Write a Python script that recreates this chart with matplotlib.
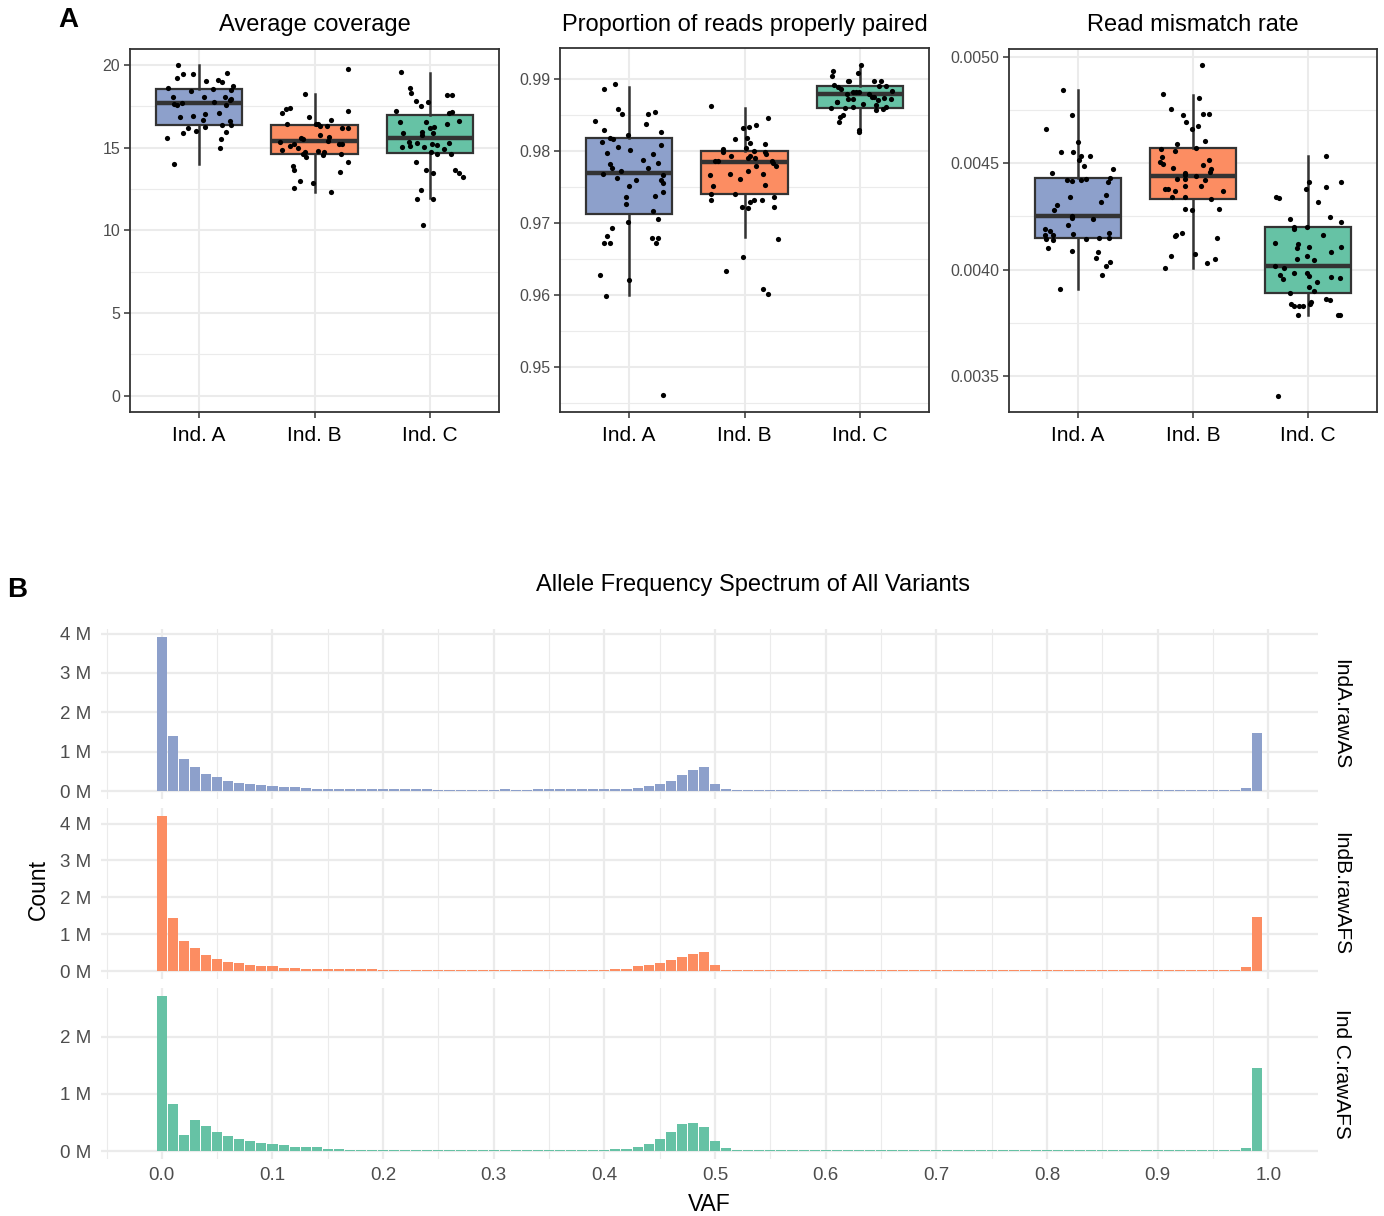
import numpy as np
import matplotlib
matplotlib.use("Agg")
import matplotlib.pyplot as plt
from matplotlib.ticker import FixedLocator

plt.rcParams['font.family'] = ['Liberation Sans', 'DejaVu Sans']

W, H = 1384, 1216

groups = ["Ind. A", "Ind. B", "Ind. C"]
fills = ["#8DA0CB", "#FC8D62", "#66C2A5"]

# ---- panel A data: box summaries (lower whisker, q1, median, q3, upper whisker)
cov_box = [[14.03, 16.39, 17.72, 18.55, 19.98],
           [12.34, 14.62, 15.38, 16.35, 18.23],
           [11.94, 14.66, 15.56, 17.00, 19.52]]
pp_box = [[0.96006, 0.97127, 0.97702, 0.98184, 0.98893],
          [0.96803, 0.97401, 0.97851, 0.98003, 0.98597],
          [0.98295, 0.98597, 0.98796, 0.98903, 0.99153]]
mm_box = [[0.003910, 0.004149, 0.004251, 0.004431, 0.004846],
          [0.004009, 0.004331, 0.004442, 0.004573, 0.004823],
          [0.003787, 0.003888, 0.004018, 0.004202, 0.004537]]

# jittered samples: (horizontal jitter, value)
cov_A = [(-0.18, 20.0), (-0.19, 19.2), (-0.14, 19.46), (-0.05, 19.44), (0.24, 19.54), (0.06, 19.05),
         (0.16, 19.07), (0.20, 18.97), (0.29, 18.75), (-0.27, 18.63), (0.12, 18.53), (0.28, 18.49),
         (-0.07, 18.41), (-0.23, 18.04), (0.04, 18.04), (0.22, 18.04), (0.28, 17.96), (0.27, 17.88),
         (-0.22, 17.66), (-0.19, 17.56), (-0.15, 17.68), (0.13, 17.74), (0.23, 17.56), (0.05, 17.06),
         (0.17, 17.10), (-0.05, 16.94), (-0.17, 16.88), (0.03, 16.65), (0.27, 16.59), (0.20, 16.37),
         (0.28, 16.39), (-0.10, 16.19), (0.05, 16.23), (-0.14, 15.91), (-0.03, 15.99), (0.23, 15.93),
         (-0.28, 15.58), (0.19, 15.50), (0.18, 14.98), (-0.22, 14.01)]
cov_B = [(0.29, 19.74), (-0.08, 18.25), (-0.28, 17.08), (-0.25, 17.32), (-0.21, 17.38), (0.29, 17.24),
         (-0.05, 16.88), (-0.24, 16.45), (0.14, 16.65), (0.01, 16.43), (0.03, 16.43), (0.05, 16.33),
         (0.11, 16.31), (0.24, 16.17), (0.29, 16.17), (0.05, 15.75), (-0.12, 15.56), (-0.10, 15.52),
         (0.13, 15.62), (0.12, 15.42), (-0.30, 15.36), (-0.21, 15.12), (-0.18, 15.22), (-0.14, 14.98),
         (0.21, 15.22), (0.24, 15.24), (-0.28, 14.86), (-0.08, 14.76), (-0.10, 14.62), (-0.07, 14.46),
         (0.03, 14.82), (0.08, 14.76), (0.07, 14.56), (0.23, 14.62), (0.29, 14.11), (-0.19, 13.91),
         (-0.18, 13.65), (0.22, 13.55), (-0.13, 12.96), (-0.01, 12.84), (-0.18, 12.56), (0.14, 12.34)]
cov_C = [(-0.25, 19.58), (-0.17, 18.63), (-0.16, 18.29), (-0.12, 17.84), (-0.08, 17.54), (-0.02, 17.76),
         (0.15, 18.21), (0.19, 18.21), (-0.29, 17.24), (0.17, 17.12), (0.19, 17.18), (-0.26, 16.55),
         (-0.03, 16.55), (0.15, 16.43), (0.25, 16.61), (0.00, 16.21), (0.04, 16.25), (-0.07, 15.97),
         (0.03, 15.91), (-0.23, 15.91), (-0.07, 15.75), (-0.18, 15.36), (-0.11, 15.26), (0.02, 15.22),
         (0.06, 15.14), (0.17, 15.26), (-0.24, 15.04), (-0.17, 15.10), (-0.05, 15.06), (0.12, 14.92),
         (0.01, 14.72), (0.06, 14.62), (0.18, 14.64), (-0.12, 14.11), (-0.03, 13.67), (0.22, 13.65),
         (0.03, 13.45), (0.25, 13.47), (0.29, 13.25), (-0.08, 12.44), (-0.11, 11.92), (0.03, 11.92),
         (-0.06, 10.34)]

pp_A = [(-0.12, 0.9893), (-0.22, 0.9886), (-0.10, 0.9858), (-0.06, 0.9852), (0.16, 0.9852), (0.22, 0.9854),
        (-0.30, 0.9842), (0.15, 0.9838), (-0.22, 0.9830), (0.28, 0.9827), (-0.01, 0.9823), (-0.17, 0.9818),
        (-0.14, 0.9817), (-0.24, 0.9813), (0.28, 0.9808), (-0.10, 0.9806), (0.01, 0.9801), (-0.19, 0.9798),
        (0.21, 0.9796), (0.12, 0.9788), (-0.17, 0.9782), (0.25, 0.9783), (-0.15, 0.9777), (0.16, 0.9776),
        (-0.07, 0.9773), (-0.23, 0.9768), (0.29, 0.9767), (-0.11, 0.9763), (0.06, 0.9760), (0.28, 0.9760),
        (0.29, 0.9756), (0.00, 0.9752), (-0.03, 0.9737), (0.22, 0.9738), (0.29, 0.9743), (-0.03, 0.9727),
        (0.21, 0.9717), (0.25, 0.9706), (-0.01, 0.9701), (-0.15, 0.9693), (-0.19, 0.9682), (0.20, 0.9680),
        (0.25, 0.9680), (-0.22, 0.9672), (-0.17, 0.9672), (0.23, 0.9672), (-0.25, 0.9628), (0.00, 0.9621),
        (-0.20, 0.9599), (0.29, 0.9461)]
pp_B = [(-0.29, 0.9863), (0.20, 0.9846), (0.10, 0.9837), (0.04, 0.9834), (-0.01, 0.9832), (-0.08, 0.9817),
        (0.02, 0.9818), (0.05, 0.9811), (0.18, 0.9810), (0.01, 0.9804), (-0.19, 0.9803), (-0.19, 0.9799),
        (0.08, 0.9800), (0.18, 0.9799), (0.19, 0.9796), (-0.12, 0.9793), (0.03, 0.9791), (0.05, 0.9793),
        (0.09, 0.9790), (-0.23, 0.9787), (-0.26, 0.9786), (0.24, 0.9787), (0.25, 0.9783), (0.10, 0.9780),
        (0.27, 0.9779), (0.03, 0.9773), (-0.30, 0.9767), (-0.13, 0.9768), (0.16, 0.9769), (-0.04, 0.9762),
        (-0.27, 0.9752), (0.18, 0.9753), (-0.29, 0.9741), (-0.08, 0.9741), (0.26, 0.9737), (-0.29, 0.9732),
        (0.05, 0.9730), (0.08, 0.9732), (0.15, 0.9732), (-0.02, 0.9723), (0.03, 0.9721), (0.26, 0.9723),
        (0.29, 0.9678), (-0.01, 0.9653), (-0.16, 0.9634), (0.16, 0.9609), (0.20, 0.9602)]
pp_C = [(0.01, 0.9920), (-0.23, 0.9911), (-0.02, 0.9909), (-0.24, 0.9904), (-0.10, 0.9898), (-0.09, 0.9898),
        (0.12, 0.9898), (0.18, 0.9898), (-0.22, 0.9892), (-0.19, 0.9889), (-0.16, 0.9887), (0.23, 0.9891),
        (0.17, 0.9890), (0.28, 0.9884), (-0.06, 0.9883), (-0.03, 0.9883), (-0.01, 0.9882), (0.08, 0.9879),
        (0.11, 0.9876), (-0.11, 0.9879), (0.12, 0.9875), (0.21, 0.9874), (-0.10, 0.9872), (-0.06, 0.9872),
        (0.16, 0.9871), (0.27, 0.9872), (-0.20, 0.9869), (-0.20, 0.9868), (0.03, 0.9866), (0.14, 0.9864),
        (-0.13, 0.9860), (-0.06, 0.9862), (-0.25, 0.9860), (0.14, 0.9857), (0.20, 0.9859), (0.23, 0.9861),
        (-0.15, 0.9850), (-0.17, 0.9847), (-0.18, 0.9841), (-0.01, 0.9827), (-0.01, 0.9830)]

mm_A = [(-0.13, 0.004846), (-0.05, 0.004728), (-0.28, 0.004661), (0.00, 0.004603), (-0.15, 0.004555),
        (-0.04, 0.004555), (0.03, 0.004537), (0.10, 0.004535), (0.01, 0.004516), (0.05, 0.004490),
        (0.30, 0.004472), (-0.23, 0.004457), (-0.10, 0.004420), (-0.05, 0.004417), (0.03, 0.004420),
        (0.07, 0.004428), (0.28, 0.004433), (0.26, 0.004414), (0.24, 0.004353), (-0.07, 0.004343),
        (0.20, 0.004317), (-0.18, 0.004303), (-0.21, 0.004281), (-0.05, 0.004252), (-0.05, 0.004241),
        (0.13, 0.004237), (-0.09, 0.004212), (-0.29, 0.004190), (-0.24, 0.004180), (-0.04, 0.004168),
        (0.27, 0.004174), (-0.29, 0.004161), (-0.22, 0.004161), (-0.28, 0.004142), (-0.22, 0.004139),
        (0.07, 0.004146), (0.18, 0.004149), (0.27, 0.004147), (-0.26, 0.004100), (-0.05, 0.004086),
        (0.17, 0.004083), (0.16, 0.004054), (0.28, 0.004036), (0.24, 0.004018), (0.21, 0.003974),
        (-0.16, 0.003908)]
mm_B = [(0.08, 0.004964), (-0.26, 0.004826), (0.05, 0.004807), (-0.19, 0.004757), (0.09, 0.004733),
        (0.14, 0.004735), (-0.09, 0.004727), (-0.06, 0.004695), (0.04, 0.004676), (-0.01, 0.004664),
        (0.10, 0.004604), (-0.14, 0.004590), (0.03, 0.004571), (-0.28, 0.004566), (-0.16, 0.004560),
        (-0.27, 0.004532), (-0.29, 0.004507), (-0.26, 0.004497), (0.14, 0.004516), (0.09, 0.004491),
        (-0.17, 0.004480), (0.16, 0.004472), (0.15, 0.004461), (-0.07, 0.004457), (-0.07, 0.004446),
        (0.03, 0.004442), (-0.14, 0.004427), (-0.07, 0.004427), (0.10, 0.004422), (0.07, 0.004395),
        (-0.07, 0.004395), (-0.24, 0.004380), (-0.22, 0.004381), (-0.16, 0.004369), (0.26, 0.004372),
        (-0.18, 0.004343), (-0.07, 0.004343), (0.16, 0.004331), (-0.07, 0.004284), (-0.01, 0.004279),
        (0.23, 0.004284), (-0.10, 0.004174), (-0.15, 0.004161), (-0.16, 0.004158), (0.21, 0.004149),
        (0.02, 0.004073), (-0.19, 0.004065), (0.19, 0.004048), (0.12, 0.004032), (-0.24, 0.004006)]
mm_C = [(0.16, 0.004537), (0.01, 0.004413), (0.29, 0.004414), (0.16, 0.004387), (-0.02, 0.004378),
        (-0.28, 0.004343), (-0.25, 0.004337), (0.09, 0.004318), (0.19, 0.004246), (-0.16, 0.004237),
        (0.29, 0.004226), (-0.01, 0.004202), (-0.12, 0.004199), (-0.12, 0.004191), (0.13, 0.004161),
        (-0.29, 0.004127), (-0.09, 0.004119), (-0.10, 0.004100), (0.01, 0.004108), (0.29, 0.004108),
        (0.20, 0.004085), (-0.01, 0.004062), (-0.10, 0.004051), (0.05, 0.004045), (-0.29, 0.004018),
        (-0.21, 0.004007), (-0.12, 0.003985), (-0.01, 0.003982), (-0.24, 0.003973), (-0.22, 0.003957),
        (0.01, 0.003968), (0.20, 0.003963), (0.28, 0.003962), (0.08, 0.003941), (0.01, 0.003919),
        (0.05, 0.003897), (-0.16, 0.003890), (0.16, 0.003861), (0.19, 0.003858), (-0.15, 0.003838),
        (-0.12, 0.003828), (-0.08, 0.003828), (-0.04, 0.003828), (0.02, 0.003839), (0.03, 0.003845),
        (-0.09, 0.003786), (0.26, 0.003786), (0.28, 0.003786), (-0.26, 0.003406)]

# ---- panel B data: allele frequency spectra, counts in millions per 0.01 VAF bin
vaf = np.arange(100) / 100
afs_A = [3.92, 1.41, 0.83, 0.62, 0.45, 0.35, 0.27, 0.22, 0.19, 0.17,
         0.14, 0.12, 0.10, 0.09, 0.07, 0.07, 0.07, 0.05, 0.05, 0.05,
         0.05, 0.05, 0.05, 0.05, 0.05, 0.03, 0.03, 0.03, 0.03, 0.03,
         0.03, 0.05, 0.03, 0.03, 0.05, 0.05, 0.05, 0.05, 0.05, 0.05,
         0.05, 0.07, 0.07, 0.09, 0.13, 0.18, 0.27, 0.42, 0.55, 0.62,
         0.19, 0.07, 0.02, 0.02, 0.02, 0.02, 0.02, 0.02, 0.02, 0.02,
         0.02, 0.02, 0.02, 0.02, 0.02, 0.02, 0.02, 0.02, 0.02, 0.02,
         0.02, 0.02, 0.02, 0.02, 0.02, 0.02, 0.02, 0.02, 0.02, 0.02,
         0.02, 0.02, 0.02, 0.02, 0.02, 0.02, 0.02, 0.02, 0.02, 0.02,
         0.02, 0.02, 0.02, 0.02, 0.02, 0.02, 0.02, 0.04, 0.09, 1.48]
afs_B = [4.21, 1.44, 0.83, 0.62, 0.45, 0.34, 0.26, 0.21, 0.18, 0.15,
         0.13, 0.10, 0.10, 0.07, 0.07, 0.05, 0.05, 0.05, 0.05, 0.05,
         0.02, 0.02, 0.03, 0.03, 0.03, 0.03, 0.03, 0.03, 0.03, 0.03,
         0.03, 0.03, 0.02, 0.03, 0.03, 0.03, 0.02, 0.02, 0.02, 0.045,
         0.045, 0.07, 0.07, 0.14, 0.16, 0.22, 0.30, 0.38, 0.46, 0.52,
         0.16, 0.045, 0.02, 0.02, 0.02, 0.02, 0.02, 0.02, 0.02, 0.02,
         0.02, 0.02, 0.02, 0.02, 0.02, 0.02, 0.02, 0.02, 0.02, 0.02,
         0.02, 0.02, 0.02, 0.02, 0.02, 0.02, 0.02, 0.02, 0.02, 0.02,
         0.02, 0.02, 0.02, 0.02, 0.02, 0.02, 0.02, 0.02, 0.02, 0.02,
         0.02, 0.02, 0.02, 0.02, 0.02, 0.02, 0.02, 0.045, 0.11, 1.47]
afs_C = [2.71, 0.82, 0.29, 0.55, 0.44, 0.33, 0.26, 0.22, 0.17, 0.15,
         0.12, 0.10, 0.08, 0.065, 0.065, 0.047, 0.047, 0.03, 0.03, 0.03,
         0.03, 0.03, 0.02, 0.02, 0.02, 0.02, 0.02, 0.02, 0.02, 0.02,
         0.02, 0.02, 0.02, 0.025, 0.02, 0.02, 0.02, 0.02, 0.02, 0.03,
         0.03, 0.047, 0.047, 0.08, 0.13, 0.22, 0.34, 0.47, 0.50, 0.42,
         0.17, 0.05, 0.02, 0.015, 0.015, 0.015, 0.015, 0.015, 0.015, 0.015,
         0.015, 0.015, 0.015, 0.015, 0.015, 0.015, 0.015, 0.015, 0.015, 0.015,
         0.015, 0.015, 0.015, 0.015, 0.015, 0.015, 0.015, 0.015, 0.015, 0.015,
         0.015, 0.015, 0.015, 0.015, 0.015, 0.015, 0.015, 0.015, 0.015, 0.015,
         0.015, 0.015, 0.015, 0.015, 0.015, 0.02, 0.015, 0.02, 0.06, 1.45]
facet_names = ["IndA.rawAS", "IndB.rawAFS", "Ind C.rawAFS"]
facet_ticks = [[0, 1, 2, 3, 4], [0, 1, 2, 3, 4], [0, 1, 2]]

GRID = "#EBEBEB"
DARK = "#333333"
TICKTXT = "#4D4D4D"


def px_rect(left, top, right, bottom):
    return [left / W, 1 - bottom / H, (right - left) / W, (bottom - top) / H]


fig = plt.figure(figsize=(W / 100, H / 100), dpi=100)


def box_panel(rect, title, stats, samples, ylim, yticks, ylabels):
    ax = fig.add_axes(px_rect(*rect))
    bstats = [dict(whislo=s[0], q1=s[1], med=s[2], q3=s[3], whishi=s[4], fliers=[]) for s in stats]
    parts = ax.bxp(bstats, positions=[1, 2, 3], widths=0.75, patch_artist=True,
                   showcaps=False, showfliers=False,
                   boxprops=dict(edgecolor=DARK, linewidth=1.6),
                   whiskerprops=dict(color=DARK, linewidth=1.8),
                   medianprops=dict(color=DARK, linewidth=3.2, solid_capstyle='butt'),
                   zorder=2)
    for patch, c in zip(parts['boxes'], fills):
        patch.set_facecolor(c)
    for i, pts in enumerate(samples):
        dx = np.array([p[0] for p in pts])
        yv = np.array([p[1] for p in pts])
        ax.scatter(i + 1 + dx, yv, s=14, color='black', linewidths=0, zorder=4)
    ax.set_xlim(0.4, 3.6)
    ax.set_ylim(*ylim)
    ax.set_xticks([1, 2, 3])
    ax.set_xticklabels(groups, fontsize=15, color='black')
    ax.set_yticks(yticks)
    ax.set_yticklabels(ylabels, fontsize=11.5, color=TICKTXT)
    step = yticks[1] - yticks[0]
    minors = [yticks[0] - step / 2] + [t + step / 2 for t in yticks]
    ax.yaxis.set_minor_locator(FixedLocator(minors))
    ax.tick_params(axis='both', which='major', length=4, width=1.1, color=DARK)
    ax.tick_params(axis='x', pad=6)
    ax.tick_params(axis='y', pad=3)
    ax.tick_params(which='minor', length=0)
    ax.grid(True, which='major', color=GRID, linewidth=1.5, zorder=0)
    ax.grid(True, which='minor', axis='y', color=GRID, linewidth=0.8, zorder=0)
    ax.set_axisbelow(True)
    for sp in ax.spines.values():
        sp.set_color(DARK)
        sp.set_linewidth(1.3)
    cx = (rect[0] + rect[2]) / 2
    fig.text(cx / W, 1 - 25 / H, title, ha='center', va='center', fontsize=17)
    return ax


box_panel((130, 49, 499, 412), "Average coverage", cov_box, [cov_A, cov_B, cov_C],
          (-0.98, 20.97), [0, 5, 10, 15, 20], ["0", "5", "10", "15", "20"])
box_panel((560, 48, 929, 412), "Proportion of reads properly paired", pp_box, [pp_A, pp_B, pp_C],
          (0.94374, 0.99435), [0.95, 0.96, 0.97, 0.98, 0.99], ["0.95", "0.96", "0.97", "0.98", "0.99"])
box_panel((1009, 49, 1377, 412), "Read mismatch rate", mm_box, [mm_A, mm_B, mm_C],
          (0.003329, 0.005039), [0.0035, 0.0040, 0.0045, 0.0050], ["0.0035", "0.0040", "0.0045", "0.0050"])

fig.text(68 / W, 1 - 20 / H, "A", ha='center', va='center', fontsize=20, fontweight='bold')

# ---- panel B: faceted histograms
facet_rows = [(629, 799), (808, 979), (988, 1159)]
series = [afs_A, afs_B, afs_C]
for k, ((top, bottom), vals, name, yt) in enumerate(zip(facet_rows, series, facet_names, facet_ticks)):
    ax = fig.add_axes(px_rect(101, top, 1318, bottom))
    ax.bar(vaf, vals, width=0.0091, color=fills[k], edgecolor='none', zorder=2)
    m = max(vals)
    ax.set_ylim(-0.05 * m, 1.05 * m)
    ax.set_xlim(-0.055, 1.045)
    ax.set_yticks(yt)
    ax.set_yticklabels([f"{t} M" for t in yt], fontsize=13.5, color=TICKTXT)
    ax.set_xticks(np.arange(11) / 10)
    ax.xaxis.set_minor_locator(FixedLocator([-0.05] + list(np.arange(10) / 10 + 0.05)))
    if k == 2:
        ax.set_xticklabels([f"{t:.1f}" for t in np.arange(11) / 10], fontsize=13.5, color=TICKTXT)
        ax.set_xlabel("VAF", fontsize=16.5, labelpad=6)
    else:
        ax.set_xticklabels([])
    ax.tick_params(which='both', length=0)
    ax.tick_params(axis='y', pad=7)
    ax.tick_params(axis='x', pad=6)
    ax.grid(True, which='major', color=GRID, linewidth=1.6, zorder=0)
    ax.grid(True, which='minor', axis='x', color=GRID, linewidth=0.8, zorder=0)
    ax.set_axisbelow(True)
    for sp in ax.spines.values():
        sp.set_visible(False)
    ax.text(1.0 + 23 / 1217, 0.5, name, transform=ax.transAxes, rotation=270,
            ha='center', va='center', fontsize=15)

fig.text(753 / W, 1 - 585 / H, "Allele Frequency Spectrum of All Variants", ha='center', va='center', fontsize=17)
fig.text(38 / W, 1 - 889 / H, "Count", ha='center', va='center', rotation=90, fontsize=16.5)
fig.text(17 / W, 1 - 590 / H, "B", ha='center', va='center', fontsize=20, fontweight='bold')

fig.savefig("out.png", dpi=100)
